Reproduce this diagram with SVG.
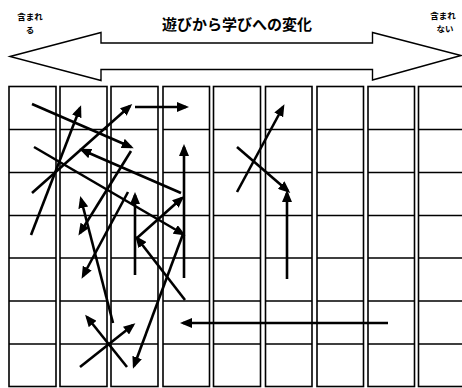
<svg xmlns="http://www.w3.org/2000/svg" width="462" height="388" viewBox="0 0 462 388">
<style>
.col{fill:#fff;stroke:#000;stroke-width:1.6}
.row{stroke:#000;stroke-width:1.6}
.band{fill:#fff;stroke:#000;stroke-width:1.4;stroke-linejoin:miter}
.t{font-family:"Noto Sans CJK JP","Noto Sans",sans-serif;font-weight:bold;fill:#000;text-anchor:middle}
.a{stroke:#000;stroke-width:2.6;fill:none;marker-end:url(#ah)}
</style>
<defs>
<marker id="ah" markerUnits="userSpaceOnUse" markerWidth="12" markerHeight="10" refX="9" refY="5" orient="auto">
<path d="M0,0 L12,5 L0,10 z" fill="#000"/>
</marker>
</defs>
<rect width="462" height="388" fill="#fff"/>
<g id="header">
<polygon id="double-arrow" class="band" points="10,56.5 101,32.5 101,43 372.5,43 372.5,32.5 461,55.5 372.5,80 372.5,69.5 101,69.5 101,80.5"/>
<text class="t" x="237" y="30" font-size="15">遊びから学びへの変化</text>
<text class="t" x="30" y="19.5" font-size="8.5">含まれ</text>
<text class="t" x="30" y="32.5" font-size="8.5">る</text>
<text class="t" x="443" y="18.5" font-size="8.5">含まれ</text>
<text class="t" x="445" y="31.5" font-size="8.5">ない</text>
</g>
<g id="grid">
<g id="col1"><rect class="col" x="9" y="86.5" width="47" height="300"/></g>
<g id="col2"><rect class="col" x="60" y="86.5" width="47" height="300"/></g>
<g id="col3"><rect class="col" x="111" y="86.5" width="47" height="300"/></g>
<g id="col4"><rect class="col" x="163" y="86.5" width="46.5" height="300"/></g>
<g id="col5"><rect class="col" x="213.5" y="86.5" width="47" height="300"/></g>
<g id="col6"><rect class="col" x="265.5" y="86.5" width="46.5" height="300"/></g>
<g id="col7"><rect class="col" x="317" y="86.5" width="46.5" height="300"/></g>
<g id="col8"><rect class="col" x="368" y="86.5" width="46.5" height="300"/></g>
<g id="col9"><rect class="col" x="418.5" y="86.5" width="47" height="300"/></g>
<g id="rows">
<path class="row" d="M9,129.5H56M60,129.5H107M111,129.5H158M163,129.5H209.5M213.5,129.5H260.5M265.5,129.5H312M317,129.5H363.5M368,129.5H414.5M418.5,129.5H465"/>
<path class="row" d="M9,172.5H56M60,172.5H107M111,172.5H158M163,172.5H209.5M213.5,172.5H260.5M265.5,172.5H312M317,172.5H363.5M368,172.5H414.5M418.5,172.5H465"/>
<path class="row" d="M9,215.5H56M60,215.5H107M111,215.5H158M163,215.5H209.5M213.5,215.5H260.5M265.5,215.5H312M317,215.5H363.5M368,215.5H414.5M418.5,215.5H465"/>
<path class="row" d="M9,258H56M60,258H107M111,258H158M163,258H209.5M213.5,258H260.5M265.5,258H312M317,258H363.5M368,258H414.5M418.5,258H465"/>
<path class="row" d="M9,301H56M60,301H107M111,301H158M163,301H209.5M213.5,301H260.5M265.5,301H312M317,301H363.5M368,301H414.5M418.5,301H465"/>
<path class="row" d="M9,344H56M60,344H107M111,344H158M163,344H209.5M213.5,344H260.5M265.5,344H312M317,344H363.5M368,344H414.5M418.5,344H465"/>
</g>
</g>
<g id="connectors">
<line class="a" x1="32" y1="104" x2="131" y2="147"/>
<line class="a" x1="34" y1="147" x2="183" y2="234"/>
<line class="a" x1="181" y1="193" x2="82" y2="150"/>
<line class="a" x1="32" y1="193" x2="130" y2="106"/>
<line class="a" x1="31" y1="235" x2="80" y2="108"/>
<line class="a" x1="135" y1="107" x2="186" y2="107"/>
<line class="a" x1="184" y1="278" x2="184" y2="147"/>
<line class="a" x1="135" y1="275" x2="135" y2="195"/>
<line class="a" x1="137" y1="238" x2="182" y2="198"/>
<line class="a" x1="185" y1="300" x2="137" y2="238"/>
<line class="a" x1="183" y1="234" x2="134" y2="366"/>
<line class="a" x1="131" y1="151" x2="80" y2="233"/>
<line class="a" x1="113" y1="323" x2="81" y2="199"/>
<line class="a" x1="128" y1="192" x2="83" y2="276"/>
<line class="a" x1="80" y1="367" x2="133" y2="325"/>
<line class="a" x1="127" y1="367" x2="87" y2="317"/>
<line class="a" x1="237" y1="192" x2="283" y2="107"/>
<line class="a" x1="237" y1="147" x2="288" y2="191"/>
<line class="a" x1="287" y1="279" x2="287" y2="193"/>
<line class="a" x1="388" y1="323" x2="183" y2="323"/>
</g>
</svg>
